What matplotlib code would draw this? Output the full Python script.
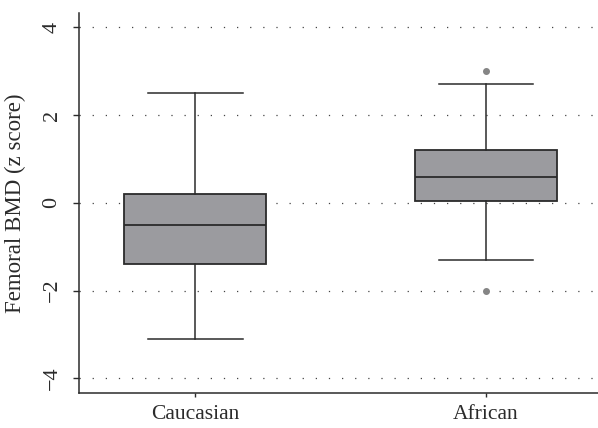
import matplotlib
matplotlib.use("Agg")
import matplotlib.pyplot as plt

# five-number summaries per group, plus outliers
groups = ["Caucasian", "African"]
whisker_low = [-3.1, -1.3]
q1 = [-1.4, 0.05]
median = [-0.5, 0.6]
q3 = [0.2, 1.2]
whisker_high = [2.5, 2.7]
outliers = [[], [3.0, -2.0]]
yticks = [-4, -2, 0, 2, 4]

plt.rcParams['font.family'] = ['Liberation Serif', 'DejaVu Serif']

fig = plt.figure(figsize=(5.98, 4.28), dpi=100)
ax = fig.add_axes([0.132, 0.082, 0.868, 0.888])

stats = []
for i, name in enumerate(groups):
    stats.append({
        "label": name,
        "whislo": whisker_low[i],
        "q1": q1[i],
        "med": median[i],
        "q3": q3[i],
        "whishi": whisker_high[i],
        "fliers": outliers[i],
    })

line_col = "#2b2b2b"
ax.bxp(stats, positions=[1, 2], widths=0.49, patch_artist=True,
       boxprops=dict(facecolor="#9b9b9f", edgecolor=line_col, linewidth=1.3),
       medianprops=dict(color=line_col, linewidth=1.3),
       whiskerprops=dict(color=line_col, linewidth=1.1),
       capprops=dict(color=line_col, linewidth=1.1),
       capwidths=0.325,
       flierprops=dict(marker="o", markersize=4, markerfacecolor="#858585",
                       markeredgecolor="#858585"),
       zorder=3)

for y in yticks:
    ax.axhline(y, color="#444444", linewidth=0.9, linestyle=(0, (1, 9.5)), zorder=1)

ax.set_xlim(0.6, 2.385)
ax.set_ylim(-4.33, 4.33)
ax.set_yticks(yticks)
ax.set_yticklabels(["\u22124", "\u22122", "0", "2", "4"], rotation=90, va="center")
ax.set_xticks([1, 2])
ax.set_xticklabels(groups)

for s in ["top", "right"]:
    ax.spines[s].set_visible(False)
for s in ["left", "bottom"]:
    ax.spines[s].set_color(line_col)
    ax.spines[s].set_linewidth(1.1)

ax.tick_params(axis="y", length=4.5, width=1, color=line_col, labelsize=16,
               labelcolor="#2b2b2b", pad=8)
ax.tick_params(axis="x", length=3, width=1, color=line_col, labelsize=15.5,
               labelcolor="#2b2b2b", pad=6)
ax.set_ylabel("Femoral BMD (z score)", fontsize=16.5, color="#2b2b2b", labelpad=12)

fig.savefig("out.png", dpi=100)
